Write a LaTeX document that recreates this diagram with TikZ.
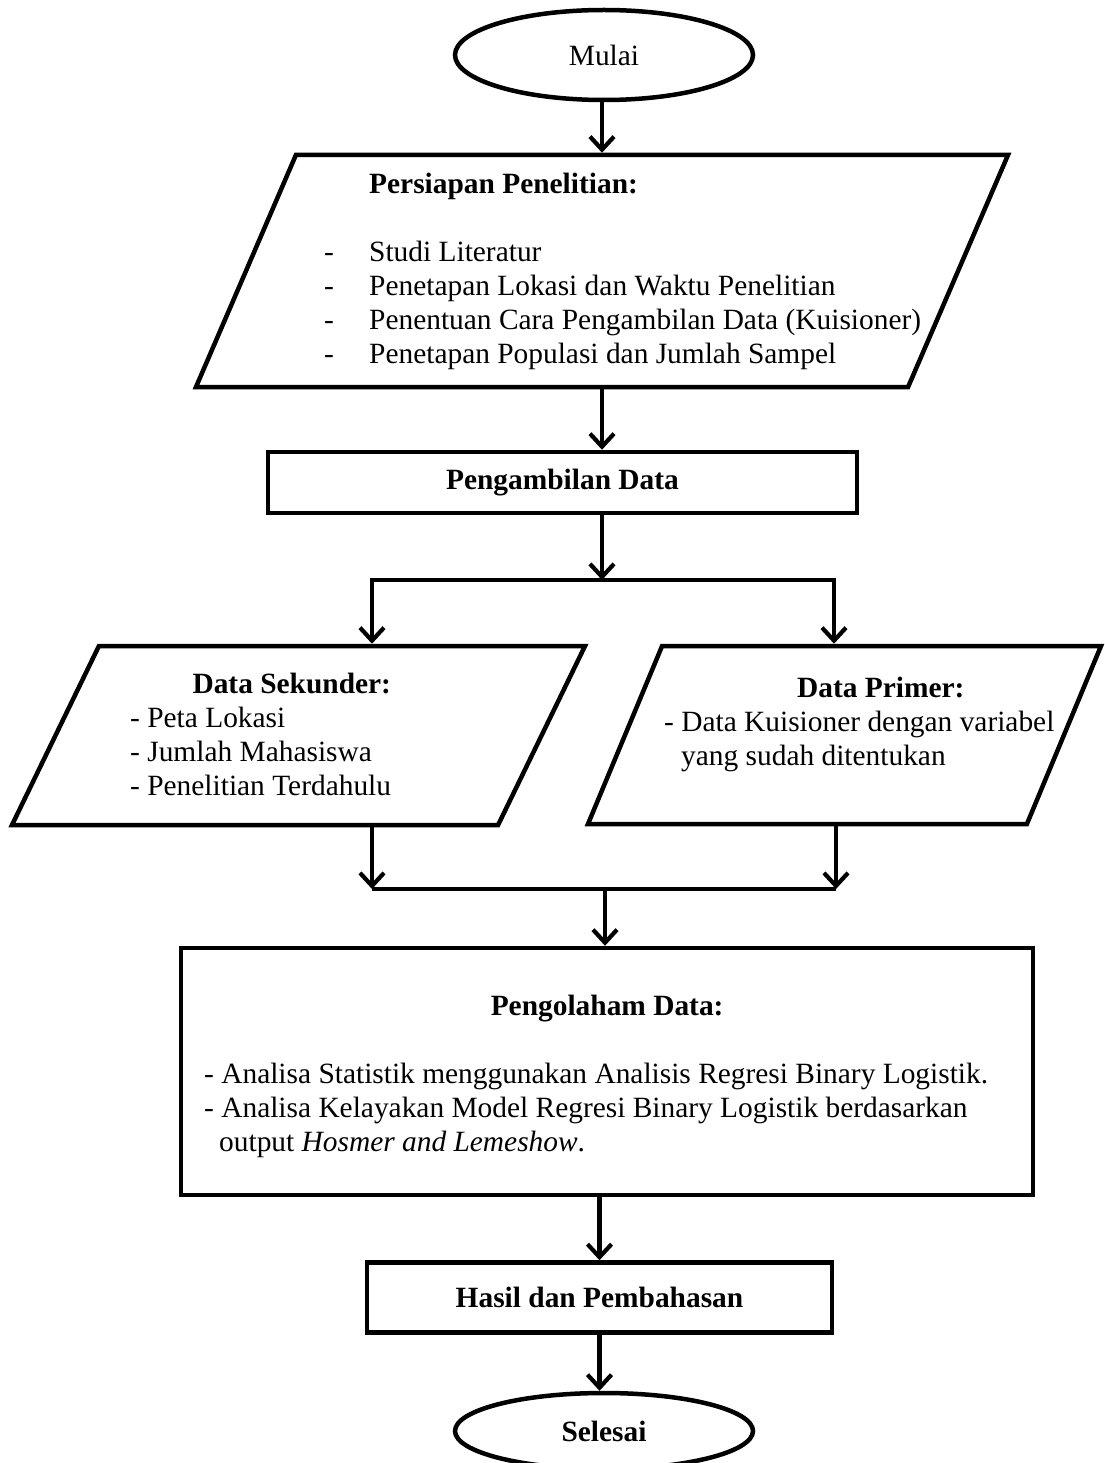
\documentclass[tikz,border=0pt]{standalone}
\usepackage{fontspec}
\setmainfont{Liberation Serif}
\usepackage{tikz}
\usetikzlibrary{shapes.geometric,arrows.meta,positioning,calc}
\tikzset{
  trm/.style={ellipse,draw,line width=4.5pt,minimum width=298pt},
  prc/.style={rectangle,draw,line width=4.5pt,font=\fontsize{29.4}{34}\selectfont\bfseries},
  pio/.style={trapezium,trapezium stretches body,draw,line width=4.5pt,inner xsep=0pt},
  txt/.style={inner sep=0pt,anchor=base west},
  arr/.style={-{Straight Barb[length=13pt,width=24pt]},line width=4.2pt},
  lnk/.style={line width=4.2pt}
}

\begin{document}
\begin{tikzpicture}[x=1pt,y=-1pt,every node/.style={font=\fontsize{29.4}{34}\selectfont}]
  \useasboundingbox (0,0) rectangle (1104,1463);

  \node[trm,minimum height=90pt] (mulai) at (604,55) {Mulai};

  % persiapan
  \node[pio,minimum width=812pt,inner ysep=116pt,
        trapezium left angle=66.7,trapezium right angle=113.3] (persiapan) at (602,271) {};
  \node[txt] (persiapan-t) at (324,194) {\begin{tabular}[t]{@{}p{45pt}@{}l@{}}
    & \textbf{Persiapan Penelitian:}\\
    & \\
    - & Studi Literatur\\
    - & Penetapan Lokasi dan Waktu Penelitian\\
    - & Penentuan Cara Pengambilan Data (Kuisioner)\\
    - & Penetapan Populasi dan Jumlah Sampel
  \end{tabular}};

  \node[prc,minimum width=589pt,minimum height=61pt] (ambil) at (562.5,482.5) {Pengambilan Data};

  \coordinate (split) at (602,580);
  \coordinate (splitL) at (372,580);
  \coordinate (splitR) at (834,580);

  % data sekunder / primer
  \node[pio,minimum width=573pt,inner ysep=89.5pt,
        trapezium left angle=64.1,trapezium right angle=115.9] (sekunder) at (298.5,735.5) {};
  \node[txt] (sekunder-t) at (130,693) {\begin{tabular}[t]{@{}l@{}}
    \multicolumn{1}{@{}r@{}}{\textbf{Data Sekunder:}}\\
    - Peta Lokasi\\
    - Jumlah Mahasiswa\\
    - Penelitian Terdahulu
  \end{tabular}};

  \node[pio,minimum width=513pt,inner ysep=89pt,
        trapezium left angle=67.4,trapezium right angle=112.6] (primer) at (844.5,735) {};
  \node[txt] (primer-t) at (664,697) {\begin{tabular}[t]{@{}l@{}}
    \multicolumn{1}{@{\hspace{43pt}}c@{}}{\textbf{Data Primer:}}\\
    - Data Kuisioner dengan variabel\\
    \hspace*{17pt}yang sudah ditentukan
  \end{tabular}};

  \coordinate (merge) at (605,889);
  \coordinate (mergeL) at (372,889);
  \coordinate (mergeR) at (836,889);

  % pengolahan
  \node[prc,minimum width=852pt,minimum height=247pt] (olah) at (607,1071.5) {};
  \node[txt] (olah-t) at (204,1015) {\begin{tabular}[t]{@{}l@{}}
    \multicolumn{1}{@{\hspace{22pt}}c@{}}{\textbf{Pengolaham Data:}}\\
    \\
    - Analisa Statistik menggunakan Analisis Regresi Binary Logistik.\\
    - Analisa Kelayakan Model Regresi Binary Logistik berdasarkan\\
    \hspace*{15pt}output \textit{Hosmer and Lemeshow}.
  \end{tabular}};

  \node[prc,minimum width=465pt,minimum height=70pt] (hasil) at (599.5,1297.5) {Hasil dan Pembahasan};
  \node[trm,minimum height=76pt,font=\fontsize{29.4}{34}\selectfont\bfseries] (selesai) at (604,1431) {Selesai};

  \draw[arr] (mulai.south -| persiapan.north) -- (persiapan.north);
  \draw[arr] (persiapan.south) -- (persiapan.south |- ambil.north);
  \draw[arr] (ambil.south -| split) -- (split);
  \draw[arr] (split) -- (splitL) -- (splitL |- sekunder.north);
  \draw[arr] (split) -- (splitR) -- (splitR |- primer.north);
  \draw[arr] (sekunder.south -| mergeL) -- (mergeL);
  \draw[arr] (primer.south -| mergeR) -- (mergeR);
  \draw[lnk] (mergeL) -- (mergeR);
  \draw[arr] (merge) -- (merge |- olah.north);
  \draw[arr] (olah.south -| hasil.north) -- (hasil.north);
  \draw[arr] (hasil.south) -- (hasil.south |- selesai.north);
\end{tikzpicture}
\end{document}
